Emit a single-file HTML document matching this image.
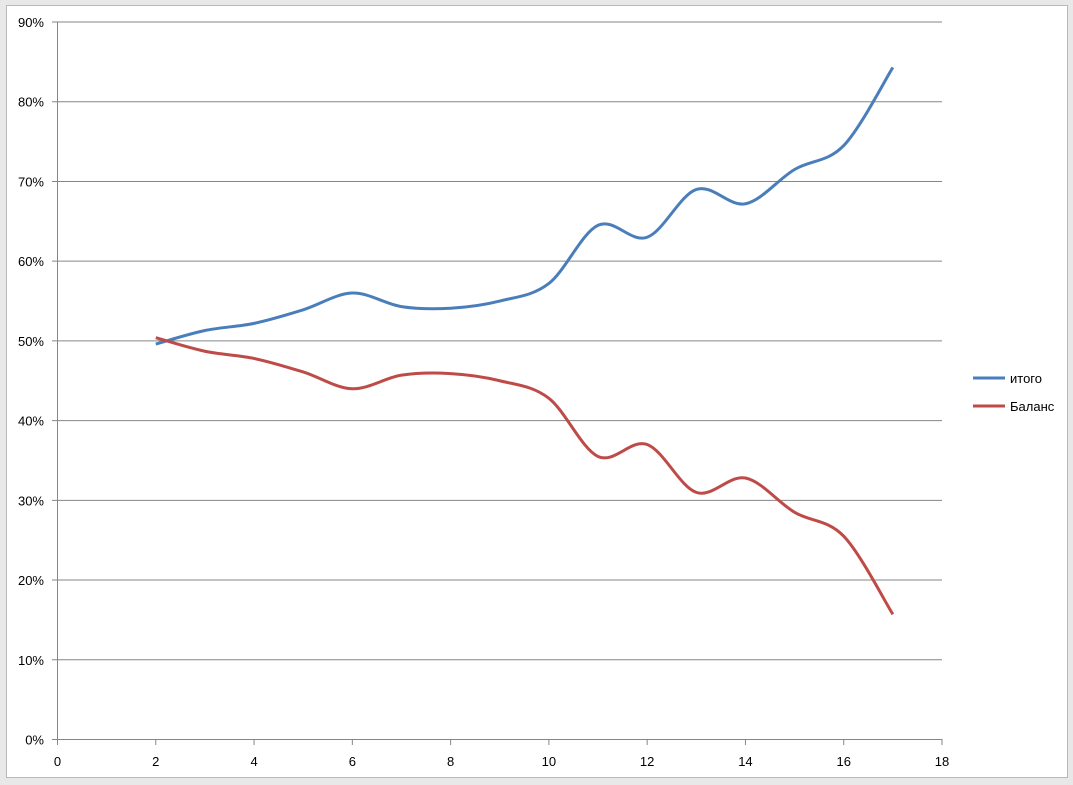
<!DOCTYPE html>
<html><head><meta charset="utf-8"><style>
body{margin:0;width:1073px;height:785px;background:#f0f0f0;overflow:hidden}
svg{display:block}
text{font-family:"Liberation Sans",sans-serif;font-size:13px;fill:#000}
</style></head><body>
<svg id="s" width="1073" height="785">
<rect x="0" y="0" width="1073" height="785" fill="#e8e8e8"/>
<rect x="6.5" y="5.5" width="1061" height="772" fill="#fff" stroke="#b8b8b8"/>
<g id="grid" stroke="#868686" stroke-width="1"></g>
<g id="lab"></g>
<path id="b" fill="none" stroke="#4a7ebb" stroke-width="3"/>
<path id="r" fill="none" stroke="#be4b48" stroke-width="3"/>
<line x1="973" y1="378" x2="1005" y2="378" stroke="#4a7ebb" stroke-width="3"/>
<line x1="973" y1="406" x2="1005" y2="406" stroke="#be4b48" stroke-width="3"/>
<text x="1010" y="383">итого</text>
<text x="1010" y="411">Баланс</text>
</svg>
<script>
var X=function(v){return 57.5+v*(942-57.5)/18},Y=function(p){return 739.5-p*(739.5-22)/90};
var g=document.getElementById('grid'),l=document.getElementById('lab'),h='',t='';
for(var i=0;i<=9;i++){var y=Y(i*10);h+='<line x1="52" x2="942" y1="'+y+'" y2="'+y+'"/>';t+='<text x="44" y="'+(y+5)+'" text-anchor="end">'+(i*10)+'%</text>';}
h+='<line x1="57.5" x2="57.5" y1="22" y2="740"/>';
for(var k=0;k<=18;k+=2){var x=X(k);h+='<line x1="'+x+'" x2="'+x+'" y1="739" y2="745"/>';t+='<text x="'+x+'" y="766" text-anchor="middle">'+k+'</text>';}
g.innerHTML=h;l.innerHTML=t;
var d=[49.6,51.3,52.2,53.9,56,54.3,54.1,55,57.2,64.5,63,69,67.2,71.5,74.5,84.3];
function path(a){var p=a.map(function(v,i){return[X(i+2),Y(v)]});var s='M'+p[0];
for(var i=0;i<p.length-1;i++){var p0=p[i-1]||p[i],p1=p[i],p2=p[i+1],p3=p[i+2]||p2,k=1/6;
s+='C'+(p1[0]+(p2[0]-p0[0])*k)+','+(p1[1]+(p2[1]-p0[1])*k)+' '+(p2[0]-(p3[0]-p1[0])*k)+','+(p2[1]-(p3[1]-p1[1])*k)+' '+p2;}return s;}
document.getElementById('b').setAttribute('d',path(d));
document.getElementById('r').setAttribute('d',path(d.map(function(v){return 100-v})));
</script>
</body></html>
